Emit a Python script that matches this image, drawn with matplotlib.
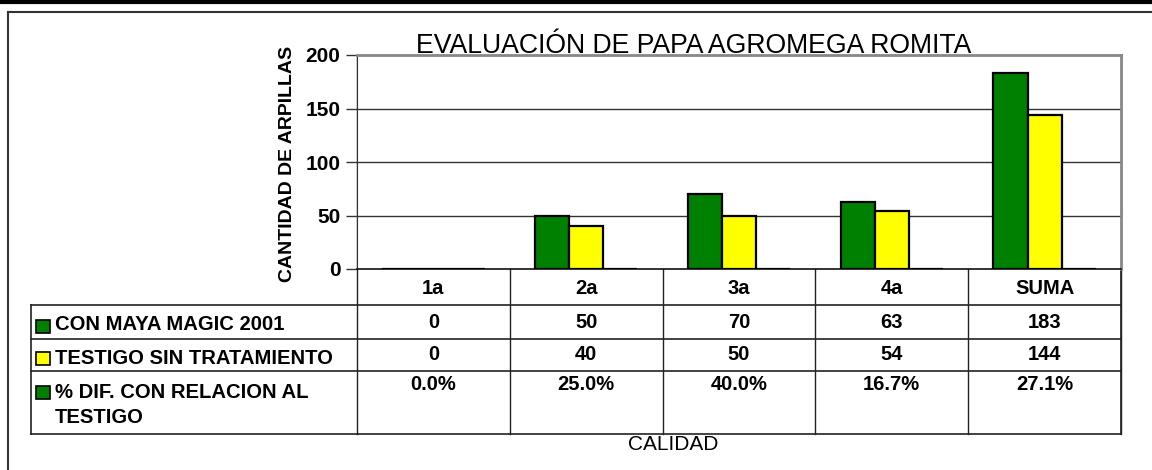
import numpy as np
import matplotlib
matplotlib.use('Agg')
import matplotlib.pyplot as plt

plt.rcParams['font.family'] = ['Liberation Sans', 'DejaVu Sans']

categories = ['1a', '2a', '3a', '4a', 'SUMA']
con_maya = [0, 50, 70, 63, 183]
testigo = [0, 40, 50, 54, 144]
pct_dif = [0.0, 0.25, 0.40, 0.167, 0.271]
series_names = ['CON MAYA MAGIC 2001', 'TESTIGO SIN TRATAMIENTO',
                '% DIF. CON RELACION AL\nTESTIGO']
series_colors = ['#008000', '#FFFF00', '#008000']

W, H = 1152, 470
fig = plt.figure(figsize=(W / 100, H / 100), dpi=100)

# plot area in pixels
left, right, top, bottom = 357, 1121, 55, 269
ax = fig.add_axes([left / W, 1 - bottom / H, (right - left) / W, (bottom - top) / H])

n = len(categories)
x = np.arange(n)
w = 0.223
for i, vals in enumerate([con_maya, testigo, pct_dif]):
    ax.bar(x + (i - 1) * w, vals, w, color=series_colors[i], edgecolor='black',
           linewidth=1.6, zorder=3)

ax.set_xlim(-0.5, n - 0.5)
ax.set_ylim(0, 200)
ax.set_yticks([0, 50, 100, 150, 200])
ax.set_yticklabels(['0', '50', '100', '150', '200'], fontsize=15, fontweight='bold')
ax.set_xticks([])
ax.tick_params(axis='y', length=8, width=1, color='#333333', pad=4)
for y in [50, 100, 150]:
    ax.axhline(y, color='#333333', lw=1, zorder=1)
ax.spines['top'].set_color('#888888')
ax.spines['top'].set_linewidth(2)
ax.spines['right'].set_color('#888888')
ax.spines['right'].set_linewidth(2)
ax.spines['left'].set_color('#333333')
ax.spines['bottom'].set_color('#111111')
ax.spines['bottom'].set_linewidth(1.2)

# overlay in pixel coordinates for table and frame
ov = fig.add_axes([0, 0, 1, 1], zorder=-1)
ov.set_xlim(0, W)
ov.set_ylim(H, 0)
ov.axis('off')
ov.patch.set_alpha(0)

ov.text(287, 164, 'CANTIDAD DE ARPILLAS', rotation=90, ha='center', va='center',
        fontsize=14, fontweight='bold')

lc = '#222222'
colw = (right - left) / n
rows = [269, 305, 339, 371, 434]
tab_left = 31

# vertical lines
for k in range(n + 1):
    xx = left + k * colw
    ov.plot([xx, xx], [top, rows[-1]], color=lc, lw=1)
ov.plot([right, right], [bottom, rows[-1]], color=lc, lw=1.2)
ov.plot([tab_left, tab_left], [rows[1], rows[-1]], color=lc, lw=1.2)
for r in rows[1:]:
    ov.plot([tab_left, right], [r, r], color=lc, lw=1.2)

# header
for k, c in enumerate(categories):
    ov.text(left + (k + 0.5) * colw, 288, c, ha='center', va='center',
            fontsize=14.5, fontweight='bold')

value_centers = [322, 355, 385]
label_centers = [325, 358, 405]
key_centers = [326, 358, 392]
data_rows = [[str(v) for v in con_maya], [str(v) for v in testigo],
             [f'{v * 100:.1f}%' for v in pct_dif]]
for r, vals in enumerate(data_rows):
    for k, s in enumerate(vals):
        ov.text(left + (k + 0.5) * colw, value_centers[r], s, ha='center', va='center',
                fontsize=14.5, fontweight='bold')
    ov.add_patch(plt.Rectangle((36, key_centers[r] - 6.5), 14, 13,
                               facecolor=series_colors[r], edgecolor='black', lw=1.2))
    ov.text(55, label_centers[r], series_names[r], ha='left', va='center',
            fontsize=14.6, fontweight='bold', linespacing=1.4)

# title and x label
ov.text(694, 53, 'EVALUACIÓN DE PAPA AGROMEGA ROMITA', ha='center', va='baseline',
        fontsize=19.2)
ov.text(673, 444, 'CALIDAD', ha='center', va='center', fontsize=15)

# frame
ov.plot([0, W], [1.5, 1.5], color='black', lw=3)
ov.plot([8, W], [12, 12], color='#333333', lw=1.5)
ov.plot([8, 8], [12, H], color='#333333', lw=1.5)

fig.savefig('out.png', dpi=100)
